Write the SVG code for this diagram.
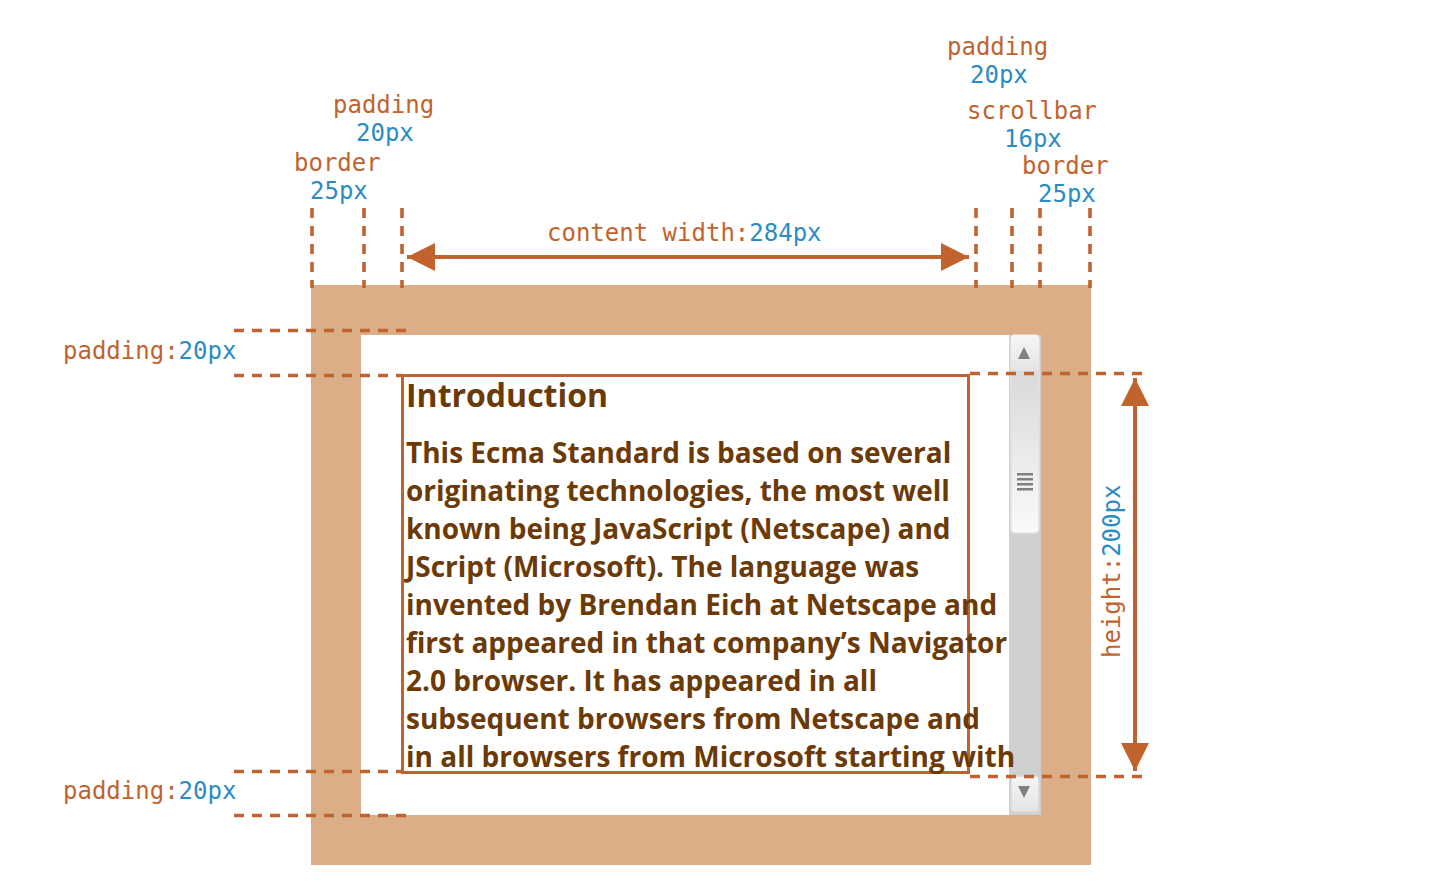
<svg xmlns="http://www.w3.org/2000/svg" width="1450" height="889" viewBox="0 0 1450 889">
<defs>
<style>
.m{font-family:"DejaVu Sans Mono","Liberation Mono",monospace;font-size:24px}
.o{fill:#c0632f}
.b{fill:#2b8cc4}
.d{stroke:#c0632f;stroke-width:3.6;stroke-dasharray:10 8;fill:none}
.body{font-family:"Open Sans","Noto Sans",sans-serif;font-weight:bold;font-size:28px;fill:#6b3a06}
</style>
<linearGradient id="gb" x1="0" y1="0" x2="0" y2="1">
<stop offset="0" stop-color="#f6f6f6"/><stop offset="1" stop-color="#e4e4e4"/>
</linearGradient>
<linearGradient id="gt" x1="0" y1="0" x2="0" y2="1">
<stop offset="0" stop-color="#d2d2d2"/><stop offset="0.5" stop-color="#e6e6e6"/><stop offset="1" stop-color="#fafafa"/>
</linearGradient>
<marker id="ah" viewBox="0 0 10 10" refX="10" refY="5" markerWidth="7" markerHeight="7" markerUnits="strokeWidth" orient="auto-start-reverse">
<path d="M0,0 L10,5 L0,10 Z" fill="#c0632f"/>
</marker>
</defs>
<rect width="1450" height="889" fill="#fff"/>
<g id="box">
<rect x="311" y="285" width="780" height="580" fill="#dbae87"/>
<rect x="361" y="335" width="680" height="480" fill="#fff"/>
</g>
<g id="scrollbar">
<rect x="1009" y="335" width="32" height="480" fill="#d0d0d0"/>
<rect x="1011" y="335" width="28" height="198" rx="4" fill="url(#gt)" stroke="#e2e2e2" stroke-width="1.5"/>
<rect x="1011" y="335" width="28" height="36" rx="4" fill="url(#gb)"/>
<path d="M1018,359 L1024,347 L1030,359 Z" fill="#808080"/>
<g fill="#808080"><rect x="1017" y="473" width="16" height="2.5"/><rect x="1017" y="478" width="16" height="2.5"/><rect x="1017" y="483" width="16" height="2.5"/><rect x="1017" y="488" width="16" height="2.5"/></g>
<rect x="1011" y="776" width="28" height="36" rx="4" fill="url(#gb)" stroke="#d8d8d8" stroke-width="1.5"/>
<path d="M1018,786 L1030,786 L1024,798 Z" fill="#808080"/>
</g>
<g id="content">
<rect x="402.5" y="375.5" width="566" height="397" fill="none" stroke="#c0632f" stroke-width="3"/>
<text class="body" x="406" y="407" style="font-size:32px">Introduction</text>
<text class="body" x="406" y="463">This Ecma Standard is based on several</text>
<text class="body" x="406" y="501">originating technologies, the most well</text>
<text class="body" x="406" y="539">known being JavaScript (Netscape) and</text>
<text class="body" x="406" y="577">JScript (Microsoft). The language was</text>
<text class="body" x="406" y="615">invented by Brendan Eich at Netscape and</text>
<text class="body" x="406" y="653">first appeared in that company’s Navigator</text>
<text class="body" x="406" y="691">2.0 browser. It has appeared in all</text>
<text class="body" x="406" y="729">subsequent browsers from Netscape and</text>
<text class="body" x="406" y="767">in all browsers from Microsoft starting with</text>
</g>
<g id="connectors">
<path class="d" d="M312,208 V288 M364,208 V288 M402,208 V288 M976,208 V288 M1012,208 V288 M1040,208 V288 M1090,208 V288"/>
<path class="d" d="M234,330.5 H407 M234,375.5 H402 M234,771.5 H402 M234,815.5 H407 M970,373.5 H1143 M970,776.5 H1143"/>
<line x1="407" y1="257" x2="969" y2="257" stroke="#c0632f" stroke-width="4" marker-start="url(#ah)" marker-end="url(#ah)"/>
<line x1="1135" y1="378" x2="1135" y2="771" stroke="#c0632f" stroke-width="4" marker-start="url(#ah)" marker-end="url(#ah)"/>
</g>
<g id="labels" class="m">
<text x="333" y="113" class="o">padding</text>
<text x="356" y="141" class="b">20px</text>
<text x="294" y="171" class="o">border</text>
<text x="310" y="199" class="b">25px</text>
<text x="947" y="55" class="o">padding</text>
<text x="970" y="83" class="b">20px</text>
<text x="967" y="119" class="o">scrollbar</text>
<text x="1004" y="147" class="b">16px</text>
<text x="1022" y="174" class="o">border</text>
<text x="1038" y="202" class="b">25px</text>
<text x="547" y="241"><tspan class="o">content width:</tspan><tspan class="b">284px</tspan></text>
<text x="63" y="359"><tspan class="o">padding:</tspan><tspan class="b">20px</tspan></text>
<text x="63" y="799"><tspan class="o">padding:</tspan><tspan class="b">20px</tspan></text>
<text transform="translate(1120,658) rotate(-90)"><tspan class="o">height:</tspan><tspan class="b">200px</tspan></text>
</g>
</svg>
